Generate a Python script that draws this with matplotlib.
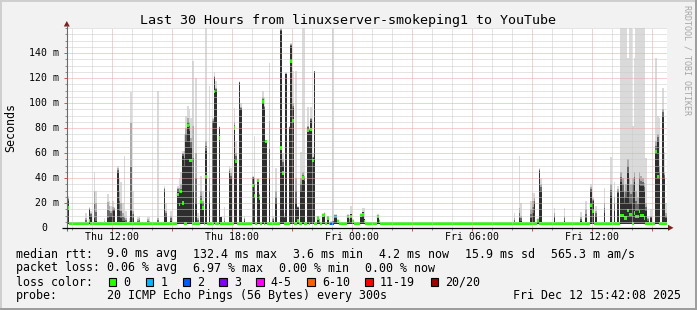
import numpy as np
import matplotlib
matplotlib.use("Agg")
import matplotlib.pyplot as plt
from matplotlib.patches import Rectangle, Polygon
from matplotlib.transforms import offset_copy

plt.rcParams["font.family"] = "DejaVu Sans Mono"

# 30 hours, one step every 5 minutes, hour 0 = Thu 09:45
n_steps = 360
steps_per_hour = 12

# smoke per step (ms): outer smoke top, mid grey top, dark core top, median
spike_hours = [0.00, 0.92, 1.08, 1.17, 1.33, 1.42, 1.83, 2.00, 2.08, 2.17,
               2.25, 2.33, 2.50, 2.58, 2.67, 2.75, 2.83, 2.92, 3.08, 3.17,
               3.25, 3.50, 3.58, 4.00, 4.08, 4.50, 4.83, 4.92, 5.17, 5.50,
               5.58, 5.67, 5.75, 5.83, 5.92, 6.00, 6.08, 6.17, 6.25, 6.42,
               6.50, 6.67, 6.75, 6.92, 7.08, 7.25, 7.33, 7.42, 7.58, 7.67,
               7.83, 8.08, 8.17, 8.33, 8.42, 8.58, 8.67, 8.83, 9.25, 9.33,
               9.50, 9.58, 9.75, 9.83, 9.92, 10.08, 10.25, 10.42, 10.67, 10.75,
               10.83, 10.92, 11.08, 11.17, 11.25, 11.42, 11.50, 11.67, 11.75, 11.83,
               12.00, 12.08, 12.17, 12.25, 12.33, 12.50, 12.58, 12.75, 12.83, 13.00,
               13.17, 13.25, 13.33, 13.42, 13.50, 14.00, 14.08, 14.17, 14.25, 14.67,
               14.75, 14.83, 15.50, 15.58, 22.33, 22.58, 22.67, 23.17, 23.25, 23.33,
               23.50, 23.58, 23.67, 24.33, 24.83, 25.67, 25.92, 26.17, 26.25, 26.42,
               26.83, 27.17, 27.33, 27.50, 27.67, 27.75, 27.83, 27.92, 28.00, 28.08,
               28.17, 28.25, 28.33, 28.42, 28.50, 28.58, 28.67, 28.75, 28.83, 28.92,
               29.00, 29.17, 29.42, 29.50, 29.58, 29.75, 29.83, 29.92]
smoke_top = [26, 12, 17, 14, 45, 30, 8, 27, 22, 18,
             22, 17, 50, 40, 37, 20, 58, 14, 8, 109,
             30, 9, 10, 9, 9, 110, 34, 20, 14, 34,
             40, 45, 62, 75, 90, 98, 95, 88, 134, 120,
             12, 42, 30, 160, 114, 88, 125, 118, 82, 9,
             17, 50, 48, 96, 70, 118, 100, 10, 42, 74,
             40, 28, 110, 105, 70, 132, 10, 48, 160, 60,
             12, 125, 82, 148, 126, 126, 18, 61, 160, 160,
             97, 80, 97, 60, 126, 10, 8, 12, 13, 10,
             6, 160, 11, 11, 7, 11, 8, 18, 7, 12,
             16, 16, 11, 7, 12, 58, 20, 22, 28, 28,
             8, 48, 40, 16, 16, 13, 22, 35, 25, 18,
             32, 57, 37, 34, 160, 160, 160, 160, 136, 160,
             160, 82, 136, 160, 160, 160, 160, 160, 160, 56,
             10, 15, 136, 90, 88, 112, 61, 20]
smoke_mid = [24, 8, 16, 12, 30, 20, 6, 21, 18, 14,
             17, 16, 48, 30, 20, 12, 10, 8, 6, 84,
             14, 7, 8, 7, 6, 8, 32, 14, 10, 32,
             32, 35, 60, 62, 80, 88, 85, 72, 82, 60,
             8, 30, 22, 70, 40, 87, 122, 112, 81, 9,
             8, 47, 44, 85, 60, 117, 97, 8, 41, 40,
             39, 27, 105, 98, 69, 86, 8, 30, 159, 55,
             10, 124, 81, 147, 100, 40, 17, 40, 45, 42,
             82, 79, 88, 57, 126, 9, 7, 11, 12, 9,
             5, 6, 10, 10, 6, 10, 7, 11, 6, 11,
             13, 7, 10, 6, 8, 16, 10, 15, 22, 24,
             7, 47, 35, 12, 10, 9, 15, 33, 23, 14,
             20, 35, 25, 31, 45, 40, 30, 35, 55, 40,
             35, 40, 45, 30, 25, 45, 42, 40, 36, 20,
             8, 10, 70, 75, 50, 95, 45, 12]
smoke_core = [22, 5, 15, 10, 8, 6, 4, 8, 10, 10,
              14, 14, 45, 14, 8, 6, 6, 5, 4, 14,
              8, 5, 5, 5, 4, 5, 30, 10, 6, 30,
              28, 28, 58, 50, 70, 82, 78, 65, 30, 20,
              5, 21, 18, 62, 20, 85, 120, 110, 80, 9,
              4, 44, 40, 80, 55, 116, 95, 6, 40, 30,
              38, 26, 102, 95, 68, 40, 6, 20, 158, 50,
              8, 123, 80, 146, 96, 20, 16, 30, 40, 38,
              80, 78, 86, 56, 125, 9, 7, 11, 12, 9,
              5, 5, 10, 10, 6, 10, 7, 11, 6, 11,
              13, 7, 10, 6, 5, 8, 6, 8, 12, 20,
              6, 46, 30, 8, 6, 6, 8, 30, 22, 10,
              12, 26, 14, 28, 37, 30, 20, 25, 45, 20,
              20, 30, 37, 14, 14, 35, 34, 34, 30, 14,
              6, 8, 61, 70, 40, 90, 40, 8]
median_ms = [16, 4, 6, 4, 4, 4, 4, 4, 4, 4,
             4, 4, 4, 4, 4, 4, 4, 4, 4, 4,
             4, 4, 4, 4, 4, 4, 4, 4, 4, 27,
             19, 29, 20, 4, 4, 82, 54, 54, 4, 4,
             4, 21, 16, 41, 4, 4, 109, 4, 72, 4,
             4, 4, 4, 80, 53, 4, 4, 4, 34, 26,
             38, 24, 101, 4, 69, 4, 4, 4, 64, 44,
             4, 4, 4, 133, 86, 4, 6, 4, 40, 4,
             78, 4, 79, 54, 4, 8, 6, 10, 11, 8,
             4, 4, 9, 9, 5, 9, 6, 9, 5, 10,
             11, 5, 9, 5, 4, 4, 4, 4, 4, 4,
             6, 4, 4, 4, 4, 4, 4, 18, 13, 4,
             4, 4, 4, 4, 10, 10, 8, 8, 14, 11,
             11, 4, 12, 9, 9, 13, 10, 10, 8, 4,
             4, 4, 61, 41, 4, 4, 4, 4]
base_median = 3.8
smoke_floor = 3.0

loss_hours = [13.17, 13.25, 13.33, 13.42]
loss_pings = [2, 2, 1, 1]

tick_hours = [2.25, 8.25, 14.25, 20.25, 26.25]
tick_labels = ["Thu 12:00", "Thu 18:00", "Fri 00:00", "Fri 06:00", "Fri 12:00"]
ytick_values = [0, 20, 40, 60, 80, 100, 120, 140]
ytick_labels = ["0", "20 m", "40 m", "60 m", "80 m", "100 m", "120 m", "140 m"]

loss_legend = ["0", "1", "2", "3", "4-5", "6-10", "11-19", "20/20"]
loss_colors = ["#26ff00", "#00b8ff", "#0059ff", "#7e00ff", "#ff00ff", "#ff5e00", "#ff0000", "#a10000"]

W, H = 697, 310
fig = plt.figure(figsize=(W / 100, H / 100), dpi=100)
fig.patch.set_facecolor("#f2f2f2")

ax = fig.add_axes([67 / W, (H - 228) / H, 600 / W, 200 / H])
ax.set_xlim(0, 30)
ax.set_ylim(0, 160)
for s in ax.spines.values():
    s.set_visible(False)

# smoke
idx = np.round(np.array(spike_hours) * steps_per_hour).astype(int)
xs = idx / steps_per_hour
top = np.array(smoke_top, float)
mid = np.array(smoke_mid, float)
core = np.array(smoke_core, float)
layers = [(top, "#dadada"), (mid, "#ababab"), ((mid + core) / 2, "#6a6a6a"), (core, "#2e2e2e")]
for vals, col in layers:
    ax.bar(xs, vals - smoke_floor, bottom=smoke_floor, width=1 / steps_per_hour,
           align="edge", color=col, linewidth=0, zorder=1)

# median line coloured by loss
med = np.full(n_steps, base_median)
m = np.array(median_ms, float)
med[idx] = np.where(m <= 4, base_median, m)
loss = np.zeros(n_steps, int)
loss[np.round(np.array(loss_hours) * steps_per_hour).astype(int)] = loss_pings
ax.bar(np.arange(n_steps) / steps_per_hour, 2.7, bottom=med - 1.35, width=1 / steps_per_hour,
       align="edge", color=[loss_colors[l] for l in loss], linewidth=0, zorder=2)

# grid
ax.set_xticks(np.arange(2.25, 30, 3))
ax.set_xticks(np.arange(0.25, 30, 1), minor=True)
ax.set_yticks(np.arange(20, 160, 20))
ax.set_yticks(np.arange(5, 161, 5), minor=True)
ax.set_axisbelow(False)
ax.grid(which="major", color="#e9a5a5", linestyle=(0, (1, 1)), linewidth=0.72)
ax.grid(which="minor", color="#cbcbcb", linestyle=(0, (1, 1)), linewidth=0.72)
ax.tick_params(which="both", labelbottom=False, labelleft=False, direction="out")
ax.tick_params(which="major", length=2, width=0.72, color="#de4f4f")
ax.tick_params(which="minor", length=1.5, width=0.72, color="#8f8f8f")

xlab_tr = offset_copy(ax.get_xaxis_transform(), x=0, y=-12, units="dots")
for h, lab in zip(tick_hours, tick_labels):
    ax.text(h, 0, lab, transform=xlab_tr, ha="center", va="baseline", fontsize=7.1)
for v, lab in zip(ytick_values, ytick_labels):
    tr = offset_copy(ax.get_yaxis_transform(), x=-8 if v else -20, y=-2.7, units="dots")
    ax.text(0, v, lab, transform=tr, ha="right", va="baseline", fontsize=7.1)

# overlay in pixel coords for frame, axes arrows, titles and legend
ov = fig.add_axes([0, 0, 1, 1], zorder=5)
ov.set_xlim(0, W)
ov.set_ylim(H, 0)
ov.axis("off")

ov.add_patch(Rectangle((0, 0), W, 2, color="#cfcfcf", lw=0))
ov.add_patch(Rectangle((0, 0), 2, H, color="#cfcfcf", lw=0))
ov.add_patch(Rectangle((W - 2.5, 0), 2.5, H, color="#9e9e9e", lw=0))
ov.add_patch(Rectangle((0, H - 2.5), W, 2.5, color="#9e9e9e", lw=0))

ov.plot([66.8, 66.8], [231, 25], color="#6a6a6a", lw=0.8, solid_capstyle="butt")
ov.plot([62, 668], [227.8, 227.8], color="black", lw=0.9, solid_capstyle="butt")
ov.add_patch(Polygon([(63.8, 26.5), (69.8, 26.5), (66.8, 21)], color="#801f1f", lw=0))
ov.add_patch(Polygon([(668, 224.8), (668, 230.8), (673.5, 227.8)], color="#801f1f", lw=0))

ov.text(348, 24, "Last 30 Hours from linuxserver-smokeping1 to YouTube",
        ha="center", va="baseline", fontsize=9.6)
ov.text(11, 128, "Seconds", rotation=90, ha="center", va="center", fontsize=8.35)
ov.text(686.5, 5, "RRDTOOL / TOBI OETIKER", rotation=270, ha="center", va="top",
        fontsize=6, color="#a6a6a6")

fs = 8.35
rows = [257.5, 271.5, 285.5, 299.3]
ov.text(16, rows[0], "median rtt:", fontsize=fs, va="baseline")
for x, s in zip([107, 193, 293, 379, 465, 551],
                ["9.0 ms avg", "132.4 ms max", "3.6 ms min", "4.2 ms now",
                 "15.9 ms sd", "565.3 m am/s"]):
    ov.text(x, rows[0], s, fontsize=fs, va="baseline")
ov.text(16, rows[1], "packet loss:", fontsize=fs, va="baseline")
for x, s in zip([107, 193, 279, 365],
                ["0.06 % avg", "6.97 % max", "0.00 % min", "0.00 % now"]):
    ov.text(x, rows[1], s, fontsize=fs, va="baseline")
ov.text(16, rows[2], "loss color:", fontsize=fs, va="baseline")
box_x = [108.7, 145.7, 182.7, 219.3, 256, 307.3, 365, 430.7]
for bx, lab, col in zip(box_x, loss_legend, loss_colors):
    ov.add_patch(Rectangle((bx, 278.3), 7.5, 7.5, facecolor=col, edgecolor="black", lw=0.8))
    ov.text(bx + 14.5, rows[2], lab, fontsize=fs, va="baseline")
ov.text(16, rows[3], "probe:", fontsize=fs, va="baseline")
ov.text(107, rows[3], "20 ICMP Echo Pings (56 Bytes) every 300s", fontsize=fs, va="baseline")
ov.text(513, rows[3], "Fri Dec 12 15:42:08 2025", fontsize=fs, va="baseline")

fig.savefig("out.png", dpi=100, facecolor=fig.get_facecolor())
